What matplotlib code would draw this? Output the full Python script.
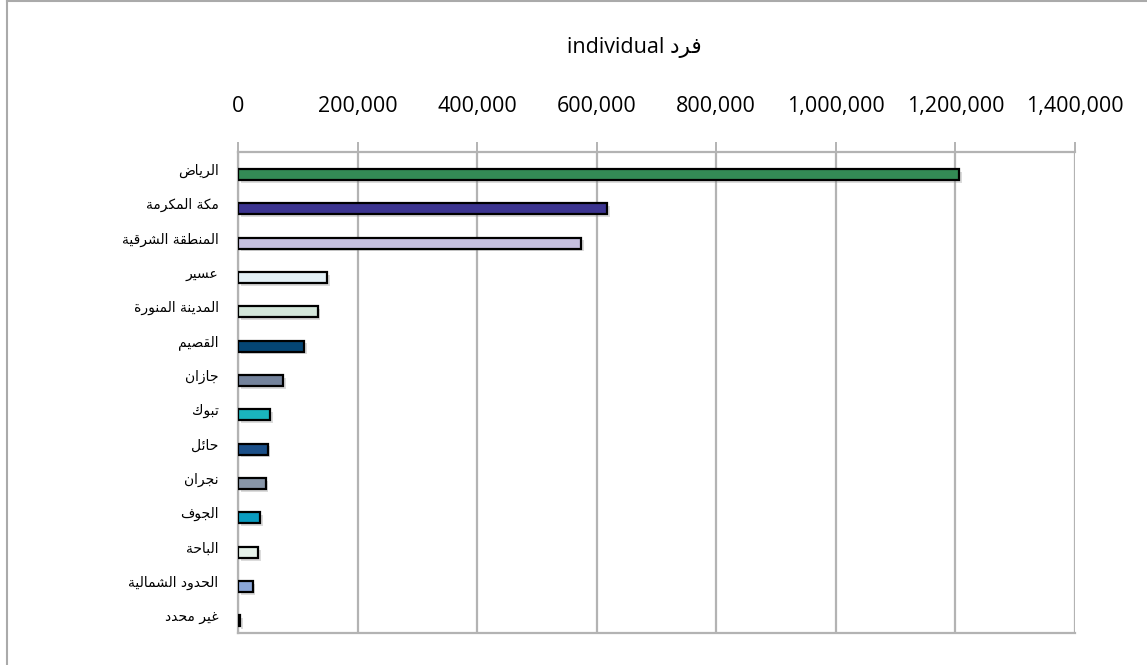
import matplotlib
matplotlib.use('Agg')
import matplotlib.pyplot as plt
import matplotlib.patheffects as pe
from matplotlib.lines import Line2D
from matplotlib.ticker import FuncFormatter
import numpy as np

regions = ['الرياض', 'مكة المكرمة', 'المنطقة الشرقية', 'عسير', 'المدينة المنورة',
           'القصيم', 'جازان', 'تبوك', 'حائل', 'نجران', 'الجوف', 'الباحة',
           'الحدود الشمالية', 'غير محدد']
values = [1206000, 617000, 574000, 149000, 133000, 110000, 75000,
          54000, 49500, 46000, 37000, 33000, 24500, 3300]
bar_colors = ['#338a55', '#3c3490', '#c6c0e0', '#e2eff5', '#d3e6da', '#044574',
              '#74839c', '#1ab4bd', '#1c5089', '#8896a8', '#0a9cc0', '#e6f2ea',
              '#8aa6d8', '#5a6f96']
x_ticks = [0, 200000, 400000, 600000, 800000, 1000000, 1200000, 1400000]
unit_en = 'individual'
unit_ar = 'فرد'

# tiny arabic shaper: matplotlib draws glyphs left to right without joining
FORMS = {
    'ا': (0xFE8D, 0xFE8E, None, None), 'ب': (0xFE8F, 0xFE90, 0xFE91, 0xFE92),
    'ة': (0xFE93, 0xFE94, None, None), 'ت': (0xFE95, 0xFE96, 0xFE97, 0xFE98),
    'ج': (0xFE9D, 0xFE9E, 0xFE9F, 0xFEA0), 'ح': (0xFEA1, 0xFEA2, 0xFEA3, 0xFEA4),
    'د': (0xFEA9, 0xFEAA, None, None), 'ر': (0xFEAD, 0xFEAE, None, None),
    'ز': (0xFEAF, 0xFEB0, None, None), 'س': (0xFEB1, 0xFEB2, 0xFEB3, 0xFEB4),
    'ش': (0xFEB5, 0xFEB6, 0xFEB7, 0xFEB8), 'ص': (0xFEB9, 0xFEBA, 0xFEBB, 0xFEBC),
    'ض': (0xFEBD, 0xFEBE, 0xFEBF, 0xFEC0), 'ط': (0xFEC1, 0xFEC2, 0xFEC3, 0xFEC4),
    'ع': (0xFEC9, 0xFECA, 0xFECB, 0xFECC), 'غ': (0xFECD, 0xFECE, 0xFECF, 0xFED0),
    'ف': (0xFED1, 0xFED2, 0xFED3, 0xFED4), 'ق': (0xFED5, 0xFED6, 0xFED7, 0xFED8),
    'ك': (0xFED9, 0xFEDA, 0xFEDB, 0xFEDC), 'ل': (0xFEDD, 0xFEDE, 0xFEDF, 0xFEE0),
    'م': (0xFEE1, 0xFEE2, 0xFEE3, 0xFEE4), 'ن': (0xFEE5, 0xFEE6, 0xFEE7, 0xFEE8),
    'و': (0xFEED, 0xFEEE, None, None), 'ي': (0xFEF1, 0xFEF2, 0xFEF3, 0xFEF4),
    'ئ': (0xFE89, 0xFE8A, 0xFE8B, 0xFE8C),
}


def shape(s):
    out = []
    n = len(s)
    for i, ch in enumerate(s):
        if ch not in FORMS:
            out.append(ch)
            continue
        f = FORMS[ch]
        prev_ok = i > 0 and s[i - 1] in FORMS and FORMS[s[i - 1]][2] is not None
        next_ok = i < n - 1 and s[i + 1] in FORMS and f[2] is not None
        if prev_ok and next_ok:
            out.append(chr(f[3]))
        elif prev_ok:
            out.append(chr(f[1]))
        elif next_ok:
            out.append(chr(f[2]))
        else:
            out.append(chr(f[0]))
    return ''.join(out)[::-1]


fonts = ['Open Sans', 'DejaVu Sans']
plt.rcParams['font.family'] = fonts

fig = plt.figure(figsize=(11.47, 6.65), dpi=100)
fig.patch.set_facecolor('white')
ax = fig.add_axes([238 / 1147, 1 - 633 / 665, 837 / 1147, 481 / 665])

grey = '#b3b3b3'
y = np.arange(len(regions))
shadow = [pe.SimplePatchShadow(offset=(2, -2), shadow_rgbFace='#888888', alpha=0.3), pe.Normal()]
bars = ax.barh(y + 0.15, values, height=0.32, color=bar_colors,
               edgecolor='black', linewidth=1.6, zorder=3)
for b in bars:
    b.set_path_effects(shadow)

ax.set_xlim(0, 1400000)
ax.set_ylim(len(regions) - 0.5, -0.5)
ax.set_xticks(x_ticks)
ax.xaxis.set_major_formatter(FuncFormatter(lambda v, p: f'{int(v):,}'))
ax.xaxis.tick_top()
ax.tick_params(axis='x', length=7, width=1.4, color=grey, pad=18,
               labelsize=15.5, labelcolor='black')
ax.grid(axis='x', color=grey, linewidth=1.6, zorder=0)

ax.set_yticks(y)
ax.set_yticklabels([shape(r) for r in regions], fontsize=10,
                   family=['DejaVu Sans'])
ax.tick_params(axis='y', length=0, pad=14)

for side in ['top', 'left', 'bottom']:
    ax.spines[side].set_color(grey)
    ax.spines[side].set_linewidth(1.6)
ax.spines['right'].set_visible(False)

fig.text(634 / 1147, 1 - 48 / 665, unit_en + ' ' + shape(unit_ar),
         ha='center', va='center', fontsize=15.5, family=fonts)

# outer frame visible at left and top
fig.add_artist(Line2D([7 / 1147, 7 / 1147], [0, 1 - 1 / 665], color='#aaaaaa',
                      linewidth=1.5, transform=fig.transFigure))
fig.add_artist(Line2D([7 / 1147, 1], [1 - 1 / 665, 1 - 1 / 665], color='#aaaaaa',
                      linewidth=1.5, transform=fig.transFigure))

fig.savefig('out.png', dpi=100)
